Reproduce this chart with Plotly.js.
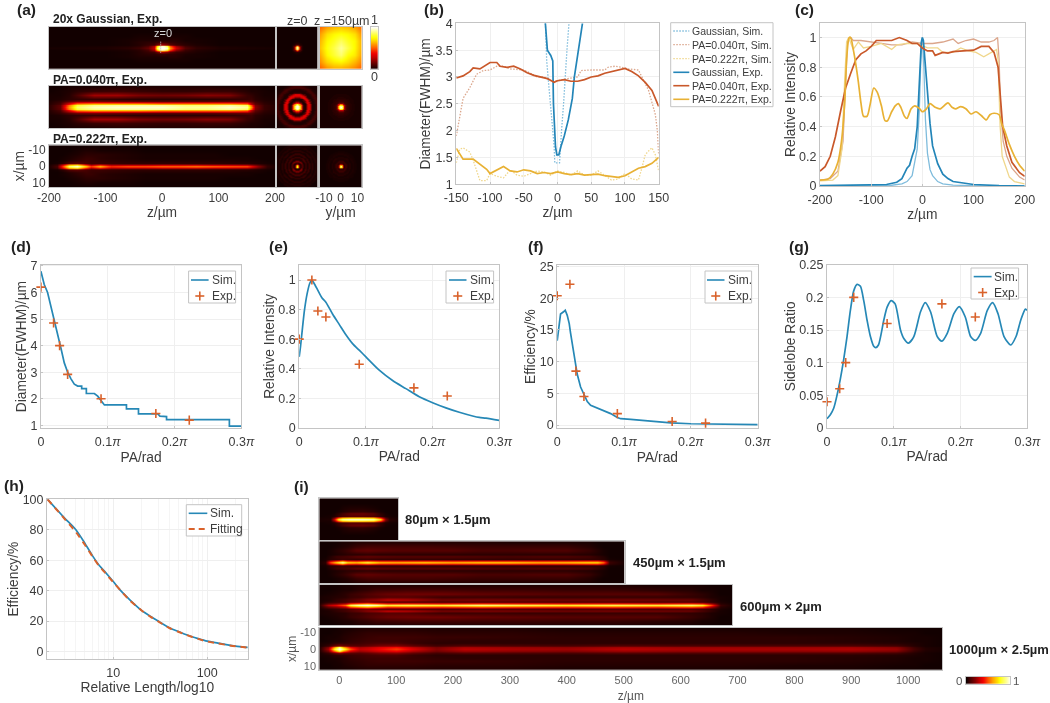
<!DOCTYPE html>
<html><head><meta charset="utf-8">
<script src="https://cdn.plot.ly/plotly-3.0.1.min.js"></script>
<style>html,body{margin:0;padding:0;background:#fff}#p{width:1050px;height:703px;filter:blur(0.4px)}</style>
</head><body><div id="p"></div>
<script>
// ---------- values ----------
// (b) diameter vs z
const bGaussSimZ=[-18,-16,-14,-10,-7,-5,-4,3,5,6,9,11,14,17];
const bGaussSimD=[4,3.3,3,2.5,2,1.7,1.4,1.4,1.7,2,2.5,3,3.5,4];
const bGaussExpZ=[-18,-15,-10,-7,-6,-4,-3,-1,2,5,10,16,22,25,31,37];
const bGaussExpD=[4,3.5,3.4,3.3,2.5,2,1.7,1.55,1.55,1.7,1.9,2.2,2.6,3,3.5,4];
const bP04SimZ=[-150,-145,-140,-130,-120,-110,-100,-90,-80,-70,-50,-40,-30,-20,-10,0,10,20,30,35,50,70,75,85,95,105,120,125,135,145,148,150];
const bP04SimD=[1.9,2.25,2.6,2.8,3.05,3.12,3.13,3.2,3.2,3.15,3.13,3.07,3,3,2.93,2.93,2.96,2.98,3,3.12,3.13,3.13,3.18,3.2,3.18,3.15,3.13,3,2.75,2.3,2,1.55];
const bP04ExpZ=[-150,-140,-130,-125,-115,-105,-100,-90,-85,-75,-65,-55,-45,-35,-25,-15,-5,0,10,20,30,40,50,60,70,80,90,100,110,120,130,140,150];
const bP04ExpD=[2.98,3.02,3.1,3.17,3.15,3.24,3.27,3.27,3.2,3.18,3.2,3.15,3.08,3.03,3,2.97,2.9,2.93,2.95,2.92,2.92,2.95,3,3.02,3.07,3.1,3.12,3.16,3.1,3.02,2.9,2.75,2.45];
const bP22SimZ=[-150,-145,-140,-130,-125,-120,-115,-105,-100,-90,-80,-70,-60,-50,-40,-30,-20,-10,0,10,20,30,40,50,60,70,80,90,100,110,120,125,130,135,140,145,150];
const bP22SimD=[1.4,1.65,1.68,1.6,1.45,1.25,1.07,1.07,1.2,1.15,1.12,1.27,1.17,1.15,1.2,1.25,1.23,1.17,1.25,1.22,1.17,1.25,1.17,1.17,1.25,1.17,1.08,1.1,1.2,1.1,1.08,1.3,1.55,1.62,1.68,1.55,1.25];
const bP22ExpZ=[-150,-140,-125,-115,-105,-100,-90,-80,-70,-60,-50,-40,-30,-20,-10,0,10,20,30,40,50,60,70,80,90,100,110,120,130,140,150];
const bP22ExpD=[1.67,1.47,1.47,1.38,1.28,1.2,1.27,1.33,1.25,1.23,1.27,1.25,1.2,1.22,1.2,1.23,1.2,1.18,1.2,1.17,1.18,1.19,1.16,1.14,1.13,1.16,1.23,1.3,1.33,1.39,1.5];
// (c) relative intensity vs z
const cGaussExpZ=[-200,-100,-70,-50,-40,-30,-25,-20,-15,-10,-7,-4,-2,0,2,5,10,15,20,25,30,40,50,60,70,80,100,150,200];
const cGaussExpI=[.002,.005,.01,.025,.05,.12,.14,.2,.25,.4,.6,.85,.97,1,.98,.85,.62,.42,.27,.2,.15,.08,.05,.03,.025,.015,.01,.003,0];
const cGaussSimZ=[-200,-60,-40,-30,-20,-10,-6,-3,0,3,6,10,15,20,30,40,60,100,200];
const cGaussSimI=[0,.005,.015,.03,.07,.25,.5,.85,1,.8,.45,.22,.11,.07,.03,.015,.006,.002,0];
const cP04ExpZ=[-200,-190,-180,-170,-160,-150,-140,-130,-120,-110,-100,-90,-80,-70,-60,-45,-30,-20,-10,0,10,20,25,40,50,60,70,80,100,115,130,140,148,152,157,165,175,190,200];
const cP04ExpI=[.1,.13,.2,.33,.5,.66,.76,.85,.89,.91,.94,.98,.98,.98,.98,1,.98,.96,.96,.93,.91,.91,.88,.9,.895,.905,.91,.91,.915,.94,.94,.9,.8,.6,.4,.27,.16,.09,.065];
const cP04SimZ=[-200,-180,-165,-155,-150,-146,-140,-135,-120,-100,-80,-60,-40,-20,0,20,40,60,70,85,100,115,130,140,147,150,153,158,165,175,190,200];
const cP04SimI=[.04,.05,.1,.3,.7,.98,1,.98,.98,.97,.96,.95,.95,.97,.96,.96,.97,.99,.96,.98,.99,.97,.97,.98,1,.85,.5,.3,.2,.12,.06,.04];
const cP22SimZ=[-200,-175,-165,-157,-152,-148,-144,-135,-125,-115,-100,-80,-60,-50,-30,-10,10,30,40,60,75,90,105,120,135,145,148,152,156,165,170,180,200];
const cP22SimI=[.035,.04,.07,.25,.7,.97,1,.92,.97,.93,.94,.96,.92,.95,.96,.96,.93,.93,.9,.9,.93,.91,.9,.87,.9,.92,.85,.4,.2,.1,.06,.03,.015];
const cP22ExpZ=[-200,-185,-175,-165,-158,-152,-148,-145,-143,-140,-135,-130,-125,-120,-115,-108,-102,-95,-88,-80,-73,-68,-60,-53,-47,-42,-35,-30,-22,-15,-5,0,8,15,25,35,50,58,65,75,85,95,105,115,125,132,140,150,155,160,170,180,190,200];
const cP22ExpI=[.04,.045,.08,.16,.3,.55,.85,.97,1,1,.92,.82,.7,.56,.47,.47,.55,.66,.63,.54,.44,.44,.5,.54,.555,.53,.47,.455,.52,.54,.52,.5,.52,.555,.53,.52,.56,.53,.52,.535,.52,.485,.5,.475,.445,.48,.49,.48,.42,.38,.28,.2,.14,.1];
// (d)-(g) versus PA (in units of pi)
const expPA=[0,.019,.028,.04,.09,.172,.222];
const dSimPA=[0,.005,.01,.015,.02,.025,.03,.035,.04,.045,.05,.055,.061,.061,.068,.068,.08,.085,.09,.095,.128,.128,.146,.146,.175,.178,.188,.188,.282,.282,.3];
const dSim=[6.8,6.3,6,5.5,4.9,4.4,3.9,3.35,3,2.75,2.55,2.48,2.48,2.38,2.38,2.2,2.2,2.1,1.95,1.77,1.77,1.62,1.62,1.43,1.43,1.35,1.33,1.22,1.22,.97,.97];
const dExp=[6.2,4.85,4,2.92,2,1.45,1.2];
const eSimPA=[0,.002,.005,.008,.012,.016,.019,.022,.028,.034,.04,.05,.06,.07,.08,.09,.1,.12,.14,.16,.18,.2,.22,.24,.26,.27,.28,.3];
const eSim=[.48,.55,.68,.8,.91,.98,1,.98,.93,.88,.85,.77,.7,.63,.57,.525,.48,.39,.32,.265,.21,.17,.135,.105,.08,.07,.065,.05];
const eExp=[.6,1,.79,.75,.43,.27,.215];
const fSimPA=[0,.002,.005,.01,.012,.015,.018,.02,.025,.03,.035,.04,.045,.05,.06,.07,.08,.09,.095,.11,.13,.15,.17,.2,.25,.3];
const fSim=[13.3,15,17.5,17.9,18.1,17.3,16,14.5,11,8,6,4.8,3.7,3.1,2.7,2.2,1.8,1.2,1,.9,.7,.45,.35,.2,.1,.05];
const fExp=[20.4,22.2,8.5,4.5,1.8,.55,.3];
const gSimPA=[0,.005,.01,.015,.02,.025,.03,.035,.04,.045,.05,.055,.06,.065,.07,.073,.077,.085,.09,.096,.102,.11,.115,.122,.13,.14,.147,.155,.165,.172,.18,.19,.198,.207,.215,.222,.23,.24,.248,.256,.265,.275,.283,.29,.297,.3];
const gSim=[.014,.02,.03,.05,.075,.105,.14,.18,.21,.22,.217,.195,.165,.14,.125,.123,.127,.165,.185,.195,.19,.15,.137,.13,.14,.178,.192,.178,.14,.133,.145,.175,.186,.17,.14,.134,.145,.18,.192,.175,.14,.127,.14,.165,.182,.18];
const gExp=[.04,.06,.1,.2,.16,.19,.17];
// (h) efficiency vs relative length
const hLen=[2,3,4,5,6,7,8,10,12,15,20,25,30,40,50,60,80,100,130,170,200,270];
const hSim=[100,88,80,71,63,57,53,46,40,34,27,23,20,15.5,13,11,8.5,6.8,5.5,4.2,3.6,2.7];
const hFit=[100,87.5,78.5,70,62.5,56.5,52.5,45.5,40,33.5,27,22.8,19.8,15.3,12.8,10.9,8.3,6.6,5.3,4.1,3.5,2.6];
// heatmaps: half profiles across x (x>=0), one row per xHalf value, mirrored about the axis
const xHalf=[0,1,2,3.5,5,7,9.5,12.5];
const aGaussZ=[-200,-100,-60,-40,-25,-15,-8,-3,0,3,8,15,25,40,60,100,200];
const aGaussI=[
[.02,.03,.05,.08,.15,.3,.85,1,1,1,.95,.6,.32,.12,.06,.03,.02],
[.01,.02,.03,.05,.1,.25,.68,.92,.95,.92,.8,.48,.22,.08,.04,.02,.01],
[.01,.01,.02,.04,.07,.09,.16,.24,.26,.24,.2,.13,.08,.05,.03,.01,.01],
[.01,.01,.02,.04,.05,.05,.06,.07,.07,.07,.06,.06,.05,.03,.02,.01,.01],
[.01,.01,.02,.03,.03,.03,.03,.03,.03,.03,.03,.04,.04,.02,.02,.01,.01],
[.01,.01,.01,.02,.02,.02,.02,.02,.02,.02,.02,.02,.02,.02,.01,.01,.01],
[.01,.01,.01,.01,.01,.01,.01,.01,.01,.01,.01,.01,.01,.01,.01,.01,.01],
[.01,.01,.01,.01,.01,.01,.01,.01,.01,.01,.01,.01,.01,.01,.01,.01,.01]];
const aP04Z=[-200,-180,-165,-150,-120,-80,-40,0,40,80,120,150,158,165,180,200];
const aP04I=[
[.05,.14,.6,.85,.93,.95,.95,.95,.9,.9,.95,.9,.6,.2,.07,.04],
[.05,.13,.55,.8,.88,.9,.9,.9,.86,.86,.9,.84,.5,.18,.07,.04],
[.04,.1,.38,.6,.66,.66,.66,.62,.62,.62,.62,.56,.3,.14,.06,.03],
[.03,.06,.12,.16,.17,.15,.13,.12,.12,.12,.13,.14,.12,.08,.04,.03],
[.02,.03,.05,.06,.07,.06,.05,.05,.05,.05,.06,.07,.08,.05,.03,.02],
[.02,.02,.04,.1,.24,.24,.18,.16,.17,.2,.18,.07,.06,.04,.02,.02],
[.01,.02,.03,.05,.07,.08,.07,.06,.06,.07,.07,.04,.03,.03,.02,.01],
[.01,.01,.02,.02,.02,.03,.03,.03,.03,.03,.02,.02,.02,.02,.01,.01]];
const aP22Z=[-200,-185,-175,-165,-150,-135,-125,-110,-90,-60,-30,0,30,60,90,120,150,170,185,200];
const aP22I=[
[.03,.1,.5,.9,1,.7,.48,.68,.45,.52,.52,.55,.55,.58,.55,.52,.5,.22,.06,.03],
[.02,.06,.3,.55,.62,.35,.2,.3,.2,.2,.2,.22,.22,.22,.2,.2,.18,.1,.04,.02],
[.01,.02,.06,.12,.14,.1,.08,.08,.07,.06,.06,.06,.06,.06,.06,.05,.05,.03,.02,.01],
[.01,.01,.02,.04,.06,.08,.07,.06,.05,.04,.03,.03,.03,.03,.03,.03,.02,.02,.01,.01],
[.01,.01,.02,.03,.05,.07,.07,.05,.04,.03,.02,.02,.02,.02,.02,.02,.02,.01,.01,.01],
[.01,.01,.01,.02,.03,.05,.05,.05,.04,.03,.02,.02,.02,.02,.02,.01,.01,.01,.01,.01],
[.01,.01,.01,.01,.02,.03,.03,.02,.02,.02,.01,.01,.01,.01,.01,.01,.01,.01,.01,.01],
[.01,.01,.01,.01,.01,.01,.01,.01,.01,.01,.01,.01,.01,.01,.01,.01,.01,.01,.01,.01]];
const aXYGrid=[-12,-8,-4,0,4,8,12];
const aGaussFar=[
[.52,.6,.64,.66,.64,.6,.52],[.6,.7,.74,.76,.74,.7,.58],[.64,.74,.78,.84,.78,.74,.62],
[.66,.76,.82,.9,.82,.74,.62],[.62,.74,.8,.86,.76,.72,.6],[.58,.68,.72,.74,.7,.64,.56],[.5,.58,.62,.62,.6,.56,.5]];
// radial profiles of the round spots, one value per 0.5 um of radius
const rGaussFocus=[1,.9,.6,.3,.12,.05,.03,.02,.01];
const rP04Focus=[1,.97,.9,.78,.6,.42,.25,.12,.05,.03,.04,.1,.22,.32,.35,.32,.22,.1,.04,.03,.03,.04,.06,.08,.09,.08,.06,.04,.03,.02];
const rP04Far=[1,.9,.72,.5,.3,.17,.1,.07,.06,.05,.05,.04,.04,.03,.03,.03,.03,.02];
const rP22Focus=[1,.75,.3,.08,.03,.1,.2,.1,.03,.03,.09,.09,.03,.03,.07,.07,.02,.02,.05,.05,.02,.02,.04,.04,.02,.02,.03,.03,.01];
const rP22Far=[1,.7,.3,.1,.05,.07,.08,.05,.03,.03,.04,.04,.02,.02,.03,.03,.02,.02,.02,.01];
const i80Z=[-35,-15,-8,-2,5,20,40,60,72,80,88,103];
const i80I=[
[.02,.03,.35,.8,.95,1,1,.97,.75,.2,.05,.02],
[.02,.02,.15,.42,.56,.62,.62,.58,.35,.1,.03,.02],
[.01,.02,.04,.08,.1,.12,.12,.11,.07,.03,.02,.01],
[.01,.01,.02,.05,.09,.14,.15,.12,.05,.02,.01,.01],
[.01,.01,.01,.02,.03,.05,.06,.04,.02,.01,.01,.01],
[.01,.01,.01,.01,.02,.03,.03,.02,.01,.01,.01,.01],
[.01,.01,.01,.01,.01,.01,.01,.01,.01,.01,.01,.01],
[.01,.01,.01,.01,.01,.01,.01,.01,.01,.01,.01,.01]];
const i450Z=[-35,-25,-15,-5,5,15,30,50,70,100,150,200,250,300,350,400,440,455,465,475,503];
const i450I=[
[.02,.05,.5,.72,.95,.72,.68,.82,.68,.66,.7,.66,.7,.7,.66,.68,.72,.72,.55,.08,.02],
[.02,.03,.22,.32,.44,.32,.3,.36,.3,.3,.3,.3,.3,.3,.3,.3,.32,.32,.24,.05,.02],
[.01,.02,.05,.06,.08,.07,.06,.07,.06,.06,.06,.06,.06,.06,.06,.06,.06,.06,.05,.02,.01],
[.01,.01,.04,.08,.09,.1,.13,.14,.13,.12,.12,.12,.11,.1,.11,.11,.09,.06,.04,.01,.01],
[.01,.01,.02,.03,.04,.05,.05,.06,.05,.05,.05,.05,.05,.05,.05,.05,.04,.03,.02,.01,.01],
[.01,.01,.02,.04,.06,.08,.13,.14,.13,.12,.12,.12,.1,.1,.11,.11,.07,.04,.02,.01,.01],
[.01,.01,.01,.02,.03,.04,.07,.09,.09,.09,.09,.08,.07,.07,.07,.07,.04,.02,.01,.01,.01],
[.01,.01,.01,.01,.02,.02,.03,.03,.03,.03,.03,.03,.03,.02,.02,.02,.02,.01,.01,.01,.01]];
const i600Z=[-35,-20,-5,10,20,35,50,65,85,120,180,250,320,400,480,560,620,640,655,670,692];
const i600I=[
[.04,.28,.38,.55,.85,.97,1,.95,.82,.85,.82,.9,.85,.8,.85,.82,.88,.8,.48,.08,.02],
[.03,.15,.2,.3,.5,.6,.66,.58,.46,.48,.45,.5,.47,.45,.47,.45,.5,.45,.25,.05,.02],
[.02,.05,.07,.09,.12,.15,.17,.14,.11,.11,.1,.11,.11,.1,.11,.1,.11,.09,.06,.03,.01],
[.02,.03,.06,.09,.11,.15,.2,.23,.3,.27,.17,.18,.17,.16,.17,.16,.15,.1,.06,.02,.01],
[.02,.03,.04,.05,.07,.08,.1,.11,.12,.12,.08,.08,.07,.07,.07,.07,.06,.05,.03,.02,.01],
[.01,.02,.03,.05,.07,.09,.11,.13,.15,.16,.16,.14,.13,.12,.12,.12,.07,.05,.03,.01,.01],
[.01,.01,.02,.03,.03,.05,.06,.08,.08,.09,.09,.08,.08,.07,.07,.05,.04,.02,.02,.01,.01],
[.01,.01,.01,.02,.02,.03,.03,.03,.03,.03,.03,.03,.03,.03,.03,.02,.02,.02,.01,.01,.01]];
const i1000Z=[-35,-20,-8,0,8,20,35,50,70,100,130,170,220,300,400,500,600,700,800,900,980,1010,1030,1060];
const i1000I=[
[.03,.25,.8,1,.85,.5,.3,.32,.38,.46,.34,.2,.29,.26,.24,.29,.26,.26,.26,.27,.23,.09,.04,.02],
[.03,.18,.55,.85,.58,.34,.24,.27,.33,.38,.27,.17,.24,.22,.2,.24,.22,.22,.22,.23,.19,.07,.03,.02],
[.02,.07,.15,.2,.16,.13,.12,.14,.18,.2,.14,.09,.12,.11,.1,.12,.11,.11,.11,.11,.09,.04,.02,.01],
[.02,.03,.05,.06,.06,.07,.08,.09,.1,.1,.07,.05,.05,.05,.05,.05,.05,.05,.05,.05,.04,.03,.02,.01],
[.01,.02,.03,.03,.04,.06,.07,.08,.08,.08,.07,.06,.05,.05,.05,.05,.05,.05,.05,.04,.03,.02,.02,.01],
[.01,.02,.02,.03,.04,.05,.06,.07,.08,.08,.08,.07,.07,.06,.05,.05,.05,.05,.05,.04,.03,.02,.02,.01],
[.01,.01,.02,.02,.03,.04,.05,.06,.06,.06,.06,.05,.05,.05,.04,.04,.04,.04,.03,.03,.02,.02,.01,.01],
[.01,.01,.01,.02,.02,.02,.03,.03,.03,.03,.03,.03,.03,.03,.02,.02,.02,.02,.02,.02,.01,.01,.01,.01]];
const colorSteps=[0,.1,.2,.3,.4,.5,.6,.7,.8,.9,1];
// tick labels
const aZVals=[-200,-100,0,100,200], aZText=['-200','-100','0','100','200'];
const aYVals=[-10,0,10], aYText=['-10','0','10'];
const bZVals=[-150,-100,-50,0,50,100,150], bZText=['-150','-100','-50','0','50','100','150'];
const paVals=[0,.1,.2,.3], paText=['0','0.1<i>π</i>','0.2<i>π</i>','0.3<i>π</i>'];
const iZVals=[0,100,200,300,400,500,600,700,800,900,1000], iZText=iZVals.map(String);

// ---------- drawing ----------
const W=1050,H=703,F='"Liberation Sans",Arial,sans-serif',TXT='#3c3c3c',EDGE='#c4c4c4',GRID='#efefef';
const BLUE='#2385b8',ORG='#c9582a',YEL='#e8b134',LBLUE='#7fbcdc',LORG='#dba68c',LYEL='#f0d78c',MARK='#d9622b',SIM='#2688b6';
const HOT=[[0,'#0c0000'],[.37,'#f00000'],[.5,'#ff5a00'],[.75,'#ffff00'],[1,'#ffffff']];
const DOT='1.5px,1.5px';
const fx=p=>p/W, fy=p=>1-p/H;
const traces=[],shapes=[],annotations=[],layout={};
let n=0;
function axes(x0,x1,y0,y1,xo,yo){
  n++;const s=n===1?'':n;
  layout['xaxis'+s]=Object.assign({domain:[fx(x0),fx(x1)],anchor:'y'+s,showline:true,mirror:true,linecolor:EDGE,linewidth:1,ticks:'',showgrid:false,zeroline:false,tickfont:{family:F,size:12,color:TXT},fixedrange:true,showticklabels:false},xo||{});
  layout['yaxis'+s]=Object.assign({domain:[fy(y1),fy(y0)],anchor:'x'+s,showline:true,mirror:true,linecolor:EDGE,linewidth:1,ticks:'',showgrid:false,zeroline:false,tickfont:{family:F,size:12,color:TXT},fixedrange:true,showticklabels:false},yo||{});
  return {xaxis:'x'+s,yaxis:'y'+s,id:s};
}
function mirror(rows){return rows.slice(1).reverse().concat(rows);}
const xFull=xHalf.slice(1).reverse().map(v=>-v).concat(xHalf);
function heat(ax,x,y,z){traces.push(Object.assign({type:'heatmap',x:x,y:y,z:z,zmin:0,zmax:1,zsmooth:'best',colorscale:HOT,showscale:false,hoverinfo:'skip'},ax));}
function spot(profile){
  const g=[];for(let i=-25;i<=25;i++)g.push(i/2);
  const z=g.map(a=>g.map(b=>{const k=Math.round(Math.hypot(a,b)*2);return k<profile.length?profile[k]:profile[profile.length-1];}));
  return {g,z};
}
function line(ax,x,y,color,width,dash,shape){traces.push(Object.assign({type:'scatter',mode:'lines',x:x,y:y,line:{color:color,width:width,dash:dash||'solid',shape:shape||'linear',smoothing:.7},showlegend:false,hoverinfo:'skip'},ax));}
function plus(ax,x,y){traces.push(Object.assign({type:'scatter',mode:'markers',x:x,y:y,marker:{symbol:'cross-thin',size:6.5,line:{color:MARK,width:1.6}},showlegend:false,hoverinfo:'skip',cliponaxis:false},ax));}
function label(t,x,y,o){annotations.push(Object.assign({text:t,xref:'paper',yref:'paper',x:fx(x),y:fy(y),showarrow:false,xanchor:'left',yanchor:'middle',font:{family:F,size:12,color:TXT},borderpad:0},o||{}));}
function bold(t,x,y,size){label('<b>'+t+'</b>',x,y,{font:{family:F,size:size,color:'#222'}});}
function ps(o){shapes.push(Object.assign({xref:'paper',yref:'paper',layer:'above'},o));}
function legend(x0,y0,x1,y1,sx0,sx1,tx,items){
  ps({type:'rect',x0:fx(x0),x1:fx(x1),y0:fy(y0),y1:fy(y1),fillcolor:'#fff',line:{color:EDGE,width:1}});
  items.forEach(it=>{
    if(it.plus){const c=(sx0+sx1)/2;
      ps({type:'line',x0:fx(c-4.5),x1:fx(c+4.5),y0:fy(it.y),y1:fy(it.y),line:{color:MARK,width:1.6}});
      ps({type:'line',x0:fx(c),x1:fx(c),y0:fy(it.y-4.5),y1:fy(it.y+4.5),line:{color:MARK,width:1.6}});
    }else ps({type:'line',x0:fx(sx0),x1:fx(sx1),y0:fy(it.y),y1:fy(it.y),line:{color:it.c,width:it.w||1.6,dash:it.d||'solid'}});
    label(it.t,tx,it.y,{font:{family:F,size:it.fs||10.5,color:TXT}});
  });
}
const tf={family:F,size:13.8,color:TXT};
const lineAx={showticklabels:true,showgrid:true,gridcolor:GRID,linecolor:EDGE,ticks:'inside',ticklen:2,tickcolor:EDGE,tickfont:{family:F,size:12.5,color:TXT}};
const lineX=Object.assign({},lineAx,{ticklabelstandoff:2});

// (a)
const yRange=[12.5,-12.5];
let A=axes(49,275,26.7,69,{range:[-200,200]},{range:yRange});heat(A,aGaussZ,xFull,mirror(aGaussI));
let s=spot(rGaussFocus);A=axes(276.5,317.7,26.7,69,{range:[-12.5,12.5]},{range:yRange});heat(A,s.g,s.g,s.z);
A=axes(319.7,361.7,26.7,69,{range:[-12,12]},{range:[12,-12]});heat(A,aXYGrid,aXYGrid,aGaussFar);
A=axes(49,275,86,128,{range:[-200,200]},{range:yRange});heat(A,aP04Z,xFull,mirror(aP04I));
s=spot(rP04Focus);A=axes(276.5,317.7,86,128,{range:[-12.5,12.5]},{range:yRange});heat(A,s.g,s.g,s.z);
s=spot(rP04Far);A=axes(319.7,361.7,86,128,{range:[-12.5,12.5]},{range:yRange});heat(A,s.g,s.g,s.z);
A=axes(49,275,145.3,187,{range:[-200,200],showticklabels:true,tickmode:'array',tickvals:aZVals,ticktext:aZText,title:{text:'z/µm',font:tf,standoff:2}},{range:yRange,showticklabels:true,tickmode:'array',tickvals:aYVals,ticktext:aYText,title:{text:'x/µm',font:tf,standoff:0}});heat(A,aP22Z,xFull,mirror(aP22I));
s=spot(rP22Focus);A=axes(276.5,317.7,145.3,187,{range:[-12.5,12.5]},{range:yRange});heat(A,s.g,s.g,s.z);
s=spot(rP22Far);A=axes(319.7,361.7,145.3,187,{range:[-12.5,12.5],showticklabels:true,tickmode:'array',tickvals:aYVals,ticktext:aYText,title:{text:'y/µm',font:tf,standoff:2}},{range:yRange});heat(A,s.g,s.g,s.z);
A=axes(371,377.7,26.7,69,{range:[-.5,.5]},{range:[0,1]});heat(A,[-.5,.5],colorSteps,colorSteps.map(v=>[v,v]));
bold('20x Gaussian, Exp.',52,19,12);bold('PA=0.040π, Exp.',52,80,12);bold('PA=0.222π, Exp.',52,139,12);
label('z=0',163,33,{xanchor:'center',font:{family:F,size:11,color:'#d8d8d8'}});
ps({type:'line',x0:fx(160.7),x1:fx(160.7),y0:fy(41.7),y1:fy(52.7),line:{color:'#bdbdbd',width:1,dash:'1px,1px'}});
label('z=0',297,21,{xanchor:'center',font:{family:F,size:12.5,color:TXT}});
label('z =150µm',342,21,{xanchor:'center',font:{family:F,size:12.5,color:TXT}});
label('1',374,20.5,{xanchor:'center',font:{family:F,size:12.5,color:TXT}});
label('0',374,77,{xanchor:'center',font:{family:F,size:12.5,color:TXT}});

// (b)
A=axes(456.3,658.7,23.3,184.3,Object.assign({},lineX,{range:[-150,150],tickmode:'array',tickvals:bZVals,ticktext:bZText,title:{text:'z/µm',font:tf,standoff:3}}),Object.assign({},lineAx,{range:[1,4],dtick:.5,title:{text:'Diameter(FWHM)/µm',font:tf,standoff:1}}));
line(A,bGaussSimZ,bGaussSimD,LBLUE,1.3,DOT);line(A,bP04SimZ,bP04SimD,LORG,1.3,DOT);line(A,bP22SimZ,bP22SimD,LYEL,1.3,DOT);
line(A,bGaussExpZ,bGaussExpD,BLUE,1.7);line(A,bP04ExpZ,bP04ExpD,ORG,1.7);line(A,bP22ExpZ,bP22ExpD,YEL,1.7);
legend(670.7,22.7,773,106.7,673.3,689.3,691,[
 {t:'Gaussian, Sim.',y:31,c:LBLUE,d:DOT,w:1.3},{t:'PA=0.040π, Sim.',y:44.7,c:LORG,d:DOT,w:1.3},{t:'PA=0.222π, Sim.',y:58.7,c:LYEL,d:DOT,w:1.3},
 {t:'Gaussian, Exp.',y:72.3,c:BLUE},{t:'PA=0.040π, Exp.',y:85.7,c:ORG},{t:'PA=0.222π, Exp.',y:99.3,c:YEL}]);

// (c)
A=axes(820,1024.7,22.7,186,Object.assign({},lineX,{range:[-200,200],tickmode:'array',tickvals:aZVals,ticktext:aZText,title:{text:'z/µm',font:tf,standoff:3}}),Object.assign({},lineAx,{range:[0,1.1],tickvals:[0,.2,.4,.6,.8,1],title:{text:'Relative Intensity',font:tf,standoff:0}}));
line(A,cGaussSimZ,cGaussSimI,LBLUE,1.3);line(A,cP04SimZ,cP04SimI,LORG,1.3);line(A,cP22SimZ,cP22SimI,LYEL,1.3);
line(A,cGaussExpZ,cGaussExpI,BLUE,1.7);line(A,cP04ExpZ,cP04ExpI,ORG,1.7);line(A,cP22ExpZ,cP22ExpI,YEL,1.7,'solid','spline');

// (d)-(g)
function paPanel(x0,x1,y0,y1,yRng,yo,simX,sim,exp,ytitle,shape){
  const a=axes(x0,x1,y0,y1,Object.assign({},lineX,{range:[0,.3],tickmode:'array',tickvals:paVals,ticktext:paText,title:{text:'PA/rad',font:tf,standoff:3}}),Object.assign({},lineAx,{range:yRng,title:{text:ytitle,font:tf,standoff:0}},yo));
  line(a,simX,sim,SIM,1.7,'solid',shape);plus(a,expPA,exp);
}
paPanel(40.9,241.4,264.8,428.4,[.887,7.04],{tickvals:[1,2,3,4,5,6,7]},dSimPA,dSim,dExp,'Diameter(FWHM)/µm');
paPanel(299.2,499.3,264.8,427.8,[0,1.103],{tickvals:[0,.2,.4,.6,.8,1]},eSimPA,eSim,eExp,'Relative Intensity','spline');
paPanel(557.2,757.7,264.8,428.4,[-.53,25.27],{tickvals:[0,5,10,15,20,25]},fSimPA,fSim,fExp,'Efficiency/%');
paPanel(827,1027.4,264.8,427.8,[0,.25],{tickvals:[0,.05,.1,.15,.2,.25],ticktext:['0','0.05','0.1','0.15','0.2','0.25'],tickmode:'array'},gSimPA,gSim,gExp,'Sidelobe Ratio','spline');
function leg2(x0,y0,x1,y1,sx0,sx1,tx,ya,yb){legend(x0,y0,x1,y1,sx0,sx1,tx,[{t:'Sim.',y:ya,c:SIM,fs:12},{t:'Exp.',y:yb,plus:true,fs:12}]);}
leg2(188.6,271,235.6,303,191,208.6,210.6,280,296);
leg2(446,271,493.6,303,449,466.5,468.6,280,296);
leg2(705,271,751.6,303,707,724.5,727,280,296);
leg2(971,268,1018.6,299,973.7,991.6,993.3,276.6,292.5);

// (h)
A=axes(47,247.7,499.3,659,Object.assign({},lineX,{type:'log',range:[.295,2.43],tickmode:'array',tickvals:[10,100],ticktext:['10','100'],minor:{tickmode:'array',tickvals:[3,4,5,6,7,8,9,20,30,40,50,60,70,80,90,200],showgrid:true,gridcolor:'#f5f5f5',ticks:''},title:{text:'Relative Length/log10',font:tf,standoff:3}}),Object.assign({},lineAx,{range:[-4.9,100],tickvals:[0,20,40,60,80,100],title:{text:'Efficiency/%',font:tf,standoff:0}}));
line(A,hLen,hSim,SIM,1.7,'solid','spline');line(A,hLen,hFit,MARK,2,'6px,5px','spline');
legend(186.3,504.7,241.7,536,188.7,207.3,209,[{t:'Sim.',y:513.3,c:SIM,fs:12},{t:'Fitting',y:529,c:MARK,d:'6px,4px',w:2,fs:12}]);

// (i)
const iR=[12.5,-12.5];
A=axes(319.3,398,498.3,540,{range:[-35,103]},{range:iR});heat(A,i80Z,xFull,mirror(i80I));
A=axes(319.3,624.7,541.3,583,{range:[-35,503]},{range:iR});heat(A,i450Z,xFull,mirror(i450I));
A=axes(319.3,732.3,584.7,625.3,{range:[-35,692]},{range:iR});heat(A,i600Z,xFull,mirror(i600I));
A=axes(319.3,942.3,627.7,670,{range:[-35,1060],showticklabels:true,tickmode:'array',tickvals:iZVals,ticktext:iZText,tickfont:{family:F,size:11,color:'#666'},title:{text:'z/µm',font:{family:F,size:12,color:'#555'},standoff:6}},{range:iR,showticklabels:true,tickmode:'array',tickvals:aYVals,ticktext:aYText,tickfont:{family:F,size:11,color:'#666'},title:{text:'x/µm',font:{family:F,size:12,color:'#555'},standoff:0}});heat(A,i1000Z,xFull,mirror(i1000I));
A=axes(966,1010,676.7,684,{range:[0,1]},{range:[-.5,.5]});heat(A,colorSteps,[-.5,.5],[colorSteps,colorSteps]);
label('0',959,680.5,{xanchor:'center',font:{family:F,size:11.5,color:'#555'}});
label('1',1016,680.5,{xanchor:'center',font:{family:F,size:11.5,color:'#555'}});
bold('80µm × 1.5µm',404,519,13);bold('450µm × 1.5µm',632,562,13);bold('600µm × 2µm',739,606,13);bold('1000µm × 2.5µm',948,649,13);

// panel letters
[['(a)',16,10],['(b)',423,10],['(c)',794,10],['(d)',10,246],['(e)',268,246],['(f)',527,246],['(g)',788,246],['(h)',3,485],['(i)',293,486]].forEach(t=>bold(t[0],t[1],t[2],15.5));

Object.assign(layout,{width:W,height:H,margin:{l:0,r:0,t:0,b:0,pad:0},paper_bgcolor:'#fff',plot_bgcolor:'#fff',showlegend:false,font:{family:F},shapes:shapes,annotations:annotations});
Plotly.newPlot('p',traces,layout,{staticPlot:true,displayModeBar:false});
</script></body></html>
